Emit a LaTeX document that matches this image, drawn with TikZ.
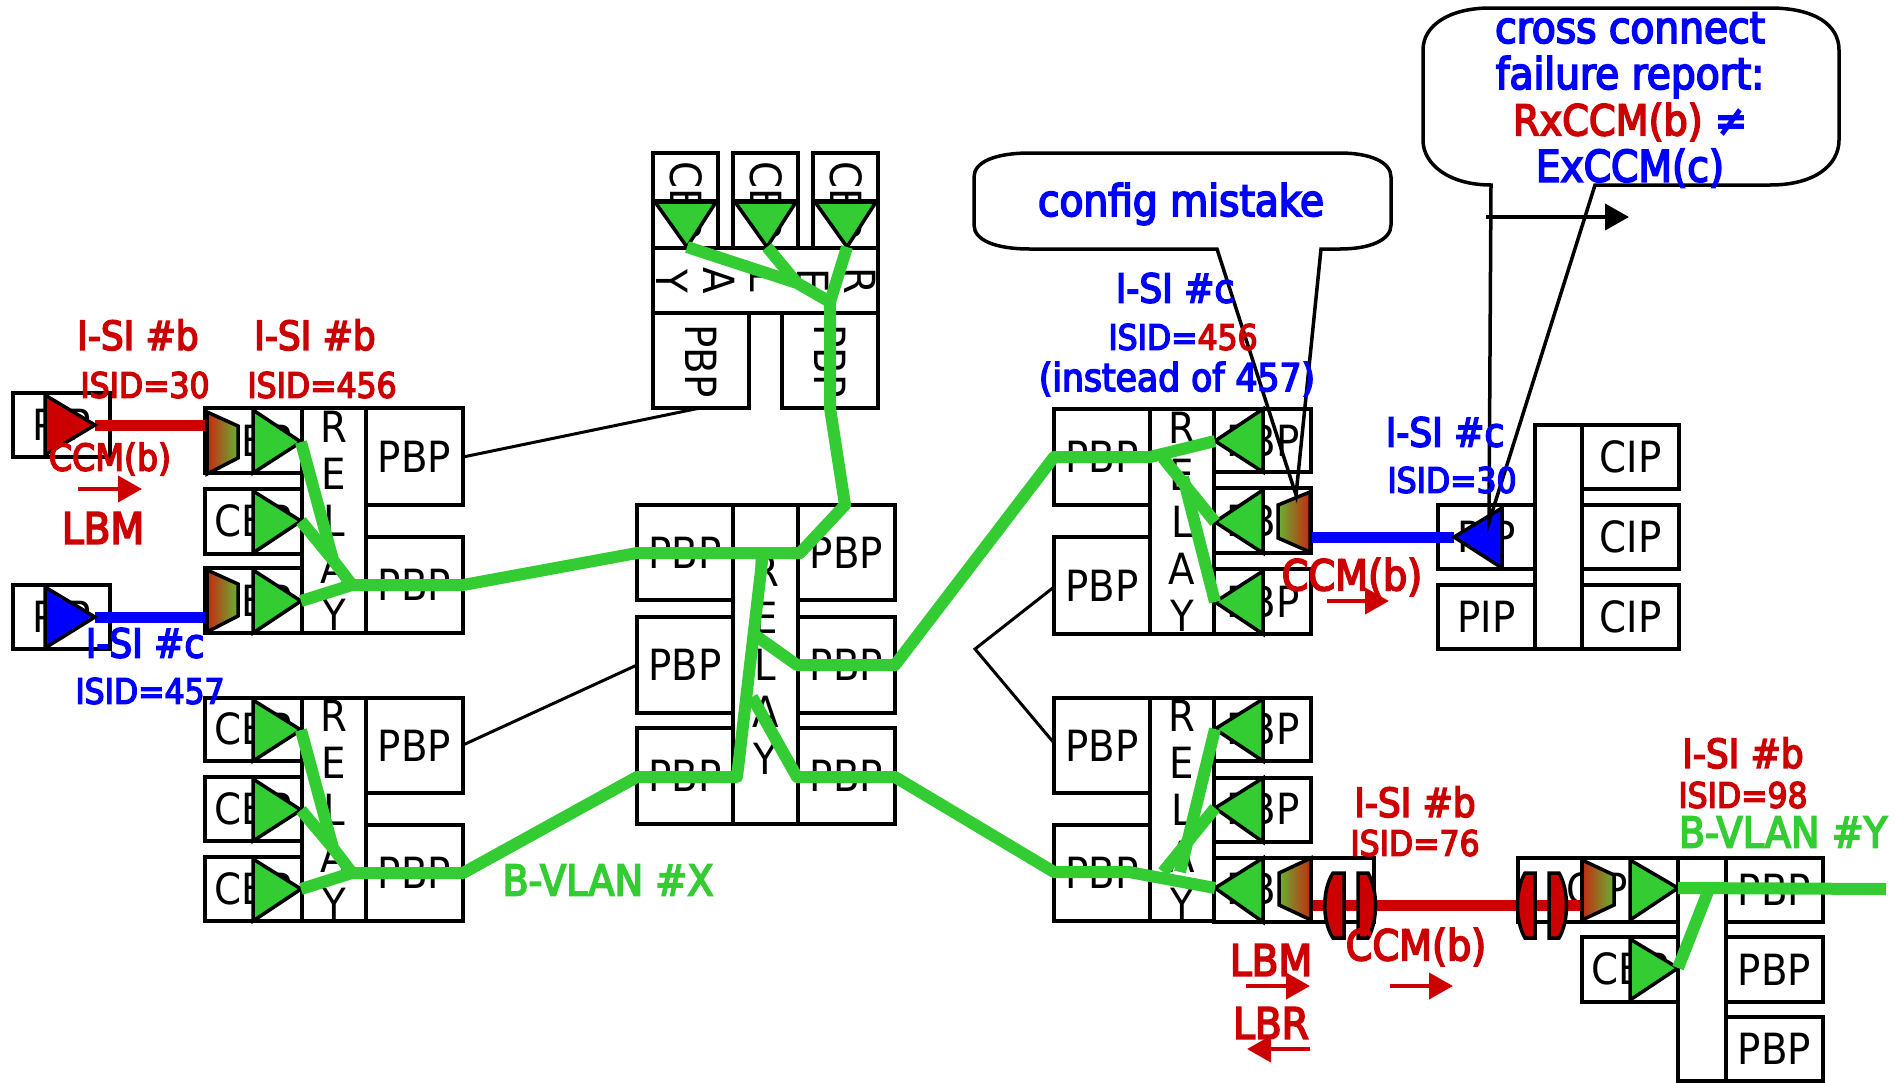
\documentclass[tikz,border=0pt]{standalone}
\usepackage{fontspec}
\setmainfont{DejaVu Sans Condensed}
\newfontfamily\lbf[FakeBold=4]{DejaVu Sans Condensed}
\definecolor{cred}{HTML}{CC0000}
\definecolor{cblue}{HTML}{0000FF}
\definecolor{cgreen}{HTML}{33CC33}
\definecolor{gmid}{HTML}{A87A28}
\definecolor{gend}{HTML}{66B233}
\definecolor{gsta}{HTML}{C42A10}
\usetikzlibrary{arrows.meta}
\tikzset{
 boxs/.style={draw=black,line width=3.5pt,inner sep=0pt,font=\fontsize{43}{47}\selectfont,align=center},
 plain/.style={inner sep=0pt,font=\fontsize{43}{47}\selectfont,align=center},
 glink/.style={draw=cgreen,line width=12pt,line join=round},
 thin/.style={draw=black,line width=3pt},
 tria/.style={draw=black,line width=3.5pt,line join=miter},
 trap/.style={draw=black,line width=3.5pt,line join=miter},
 lab/.style={inner sep=0pt,align=center,font=\fontsize{40}{47}\lbf},
 labs/.style={inner sep=0pt,align=center,font=\fontsize{35}{42}\lbf},
 labc/.style={inner sep=0pt,align=center,font=\fontsize{43.5}{47}\lbf},
 labm/.style={inner sep=0pt,align=center,font=\fontsize{42.5}{47}\lbf},
 labi/.style={inner sep=0pt,align=center,font=\fontsize{38.5}{42}\lbf},
 labj/.style={inner sep=0pt,align=center,font=\fontsize{37}{42}\lbf},
 rarrow/.style={draw=cred,line width=4pt,-{Triangle[length=24pt,width=26pt]}},
 lens/.style={fill=cred,draw=black,line width=3.5pt},
 gradlr/.style={trap,left color=gsta,middle color=gmid,right color=gend},
 gradrl/.style={trap,left color=gend,middle color=gmid,right color=gsta},
}
% name, x1,y1,x2,y2,text
\newcommand{\bx}[6]{%
 \pgfmathsetmacro{\bw}{#4-#2}\pgfmathsetmacro{\bh}{#5-#3}%
 \pgfmathsetmacro{\bcx}{(#2+#4)/2}\pgfmathsetmacro{\bcy}{(#3+#5)/2}%
 \node[boxs,minimum width=\bw pt,minimum height=\bh pt] (#1) at (\bcx,\bcy) {#6};}
% name of tip, base x, y1, y2, tip x, tip y, colour
\newcommand{\tri}[7]{%
 \coordinate (#1) at (#5,#6);
 \draw[tria,fill=#7] (#2,#3) -- (#2,#4) -- (#1) -- cycle;}
\begin{document}
\begin{tikzpicture}[x=1pt,y=-1pt]
\useasboundingbox (0,0) rectangle (1904,1082);
\fill[white] (0,0) rectangle (1904,1082);
% far left PIPs
\bx{pipa}{13}{393}{110}{457}{PIP}
\bx{pipb}{13}{585}{110}{649}{PIP}
\draw[line width=3pt] (45,391) -- (45,459) (45,583) -- (45,651);
% left upper block
\bx{cba}{205}{408}{302}{473}{}
\bx{cbb}{205}{489}{302}{554}{}
\bx{cbc}{205}{568}{302}{633}{}
\node[plain] (tcba) at (253,441) {CBP};
\node[plain] (tcbb) at (253,521) {CBP};
\node[plain] (tcbc) at (253,601) {CBP};
\bx{rla}{302}{408}{366}{633}{R\\E\\L\\A\\Y}
\bx{pba}{366}{408}{463}{505}{PBP}
\bx{pbb}{366}{537}{463}{633}{PBP}
% left lower block
\bx{cbd}{205}{698}{302}{761}{}
\bx{cbe}{205}{777}{302}{841}{}
\bx{cbf}{205}{857}{302}{921}{}
\node[plain] (tcbd) at (253,729) {CBP};
\node[plain] (tcbe) at (253,809) {CBP};
\node[plain] (tcbf) at (253,889) {CBP};
\bx{rlb}{302}{698}{366}{921}{R\\E\\L\\A\\Y}
\bx{pbc}{366}{698}{463}{793}{PBP}
\bx{pbd}{366}{825}{463}{921}{PBP}
% centre block
\bx{pbe}{637}{505}{733}{600}{PBP}
\bx{pbf}{637}{617}{733}{713}{PBP}
\bx{pbg}{637}{728}{733}{824}{PBP}
\bx{rlc}{733}{505}{798}{824}{R\\E\\L\\A\\Y}
\bx{pbh}{798}{505}{895}{600}{PBP}
\bx{pbi}{798}{617}{895}{713}{PBP}
\bx{pbj}{798}{728}{895}{824}{PBP}
% top block
\bx{cbg}{653}{153}{718}{248}{}
\bx{cbh}{733}{153}{798}{248}{}
\bx{cbi}{813}{153}{878}{248}{}
\node[plain,rotate=-90] (tcbg) at (686,200) {CBP};
\node[plain,rotate=-90] (tcbh) at (766,200) {CBP};
\node[plain,rotate=-90] (tcbi) at (846,200) {CBP};
\bx{rld}{653}{248}{878}{313}{}
\node[plain,rotate=-90] (trld) at (766,281) {R\\E\\L\\A\\Y};
\bx{pbk}{653}{313}{749}{408}{}
\bx{pbl}{782}{313}{878}{408}{}
\node[plain,rotate=-90] (tpbk) at (701,361) {PBP};
\node[plain,rotate=-90] (tpbl) at (830,361) {PBP};
% right upper block
\bx{pbm}{1054}{409}{1150}{505}{PBP}
\bx{pbn}{1054}{537}{1150}{634}{PBP}
\bx{rle}{1150}{409}{1214}{634}{R\\E\\L\\A\\Y}
\bx{cbj}{1214}{409}{1311}{472}{}
\bx{cbk}{1214}{488}{1311}{553}{}
\bx{cbl}{1214}{569}{1311}{634}{}
\node[plain] (tcbj) at (1263,441) {PBP};
\node[plain] (tcbk) at (1263,521) {PBP};
\node[plain] (tcbl) at (1263,602) {PBP};
% PIP / CIP
\bx{pipc}{1438}{505}{1535}{569}{PIP}
\bx{pipd}{1438}{585}{1535}{649}{PIP}
\bx{col}{1535}{425}{1582}{649}{}
\bx{cipa}{1582}{425}{1679}{489}{CIP}
\bx{cipb}{1582}{505}{1679}{569}{CIP}
\bx{cipc}{1582}{585}{1679}{649}{CIP}
% right lower block
\bx{pbo}{1054}{698}{1150}{793}{PBP}
\bx{pbp}{1054}{825}{1150}{921}{PBP}
\bx{rlf}{1150}{698}{1214}{921}{R\\E\\L\\A\\Y}
\bx{cbm}{1214}{698}{1311}{761}{}
\bx{cbn}{1214}{778}{1311}{842}{}
\bx{cbo}{1214}{858}{1311}{922}{}
\bx{ext}{1311}{858}{1374}{922}{}
\node[plain] (tcbm) at (1263,729) {PBP};
\node[plain] (tcbn) at (1263,809) {PBP};
\node[plain] (tcbo) at (1263,889) {PBP};
% bottom right block
\bx{exr}{1518}{858}{1582}{922}{}
\bx{cbp}{1582}{858}{1678}{922}{}
\node[plain] (tcip) at (1597,889) {CIP};
\bx{cbq}{1582}{937}{1678}{1002}{}
\node[plain] (tcbq) at (1630,969) {CBP};
\bx{rlg}{1678}{858}{1726}{1081}{}
\bx{pbq}{1726}{858}{1823}{922}{PBP}
\bx{pbr}{1726}{937}{1823}{1002}{PBP}
\bx{pbs}{1726}{1017}{1823}{1081}{PBP}
% thin black links
\coordinate (fork) at (975,649);
\draw[thin] (463,457) -- (700,408);
\draw[thin] (463,745) -- (637,665);
\draw[thin] (1054,587) -- (fork) -- (1054,743);
% coloured service lines
\draw[draw=cred,line width=11pt] (95,425) -- (205,425);
\draw[draw=cblue,line width=11pt] (95,617) -- (205,617);
\draw[draw=cblue,line width=11pt] (1310,537) -- (1454,537);
\draw[draw=cred,line width=11pt] (1311,905) -- (1582,905);
% triangles
\tri{ra}{45}{395}{455}{95}{425}{cred}
\tri{rb}{45}{587}{648}{95}{617}{cblue}
\tri{ga}{253}{410}{473}{301}{442}{cgreen}
\tri{gb}{253}{491}{553}{301}{521}{cgreen}
\tri{gc}{253}{570}{633}{301}{601}{cgreen}
\tri{gd}{253}{700}{761}{301}{730}{cgreen}
\tri{ge}{253}{779}{841}{301}{810}{cgreen}
\tri{gf}{253}{859}{921}{301}{889}{cgreen}
\tri{gg}{1263}{409}{472}{1215}{441}{cgreen}
\tri{gh}{1263}{490}{553}{1215}{522}{cgreen}
\tri{gi}{1263}{571}{634}{1215}{602}{cgreen}
\tri{gj}{1263}{699}{761}{1215}{729}{cgreen}
\tri{gk}{1263}{778}{842}{1215}{808}{cgreen}
\tri{gl}{1263}{858}{922}{1215}{888}{cgreen}
\tri{gm}{1630}{860}{920}{1678}{888}{cgreen}
\tri{gn}{1630}{939}{1000}{1678}{968}{cgreen}
\tri{bl}{1502}{508}{568}{1454}{537}{cblue}
% downward triangles of the top block
\coordinate (ta) at (687,247);
\coordinate (tb) at (767,247);
\coordinate (tc) at (847,247);
\draw[tria,fill=cgreen] (655,202) -- (716,202) -- (ta) -- cycle;
\draw[tria,fill=cgreen] (735,202) -- (796,202) -- (tb) -- cycle;
\draw[tria,fill=cgreen] (815,202) -- (876,202) -- (tc) -- cycle;
\draw[line width=3pt] (651,200) -- (720,200) (731,200) -- (800,200) (811,200) -- (880,200);
% gradient trapezoids
\shade[gradlr] (207,412) -- (238,426) -- (238,458) -- (207,474) -- cycle;
\shade[gradlr] (207,570) -- (238,584) -- (238,616) -- (207,632) -- cycle;
\shade[gradrl] (1310,492) -- (1278,505) -- (1278,538) -- (1310,552) -- cycle;
\shade[gradrl] (1311,858) -- (1279,873) -- (1279,905) -- (1311,920) -- cycle;
\shade[gradlr] (1582,860) -- (1614,875) -- (1614,905) -- (1582,920) -- cycle;
% lenses
\draw[lens] (1344,873) -- (1333,873) .. controls (1322,890) and (1322,921) .. (1333,938) -- (1344,938) -- cycle;
\draw[lens] (1358,873) -- (1368,873) .. controls (1378,890) and (1378,921) .. (1368,938) -- (1358,938) -- cycle;
\draw[lens] (1535,873) -- (1525,873) .. controls (1515,890) and (1515,921) .. (1525,938) -- (1535,938) -- cycle;
\draw[lens] (1549,873) -- (1559,873) .. controls (1569,890) and (1569,921) .. (1559,938) -- (1549,938) -- cycle;
% green waypoints
\coordinate (a1) at (333,560);
\coordinate (a2) at (352,585);
\coordinate (a3) at (463,585);
\coordinate (a4) at (637,553);
\coordinate (a5) at (800,553);
\coordinate (a6) at (845,505);
\coordinate (a7) at (830,408);
\coordinate (a8) at (830,302);
\coordinate (a9) at (797,283);
\coordinate (b1) at (763,553);
\coordinate (b2) at (737,777);
\coordinate (b3) at (637,777);
\coordinate (b4) at (463,873);
\coordinate (b5) at (352,873);
\coordinate (b6) at (333,848);
\coordinate (c1) at (752,633);
\coordinate (c2) at (797,665);
\coordinate (c3) at (895,665);
\coordinate (c4) at (1054,457);
\coordinate (c5) at (1150,457);
\coordinate (c6) at (1163,458);
\coordinate (c7) at (1183,477);
\coordinate (d1) at (752,697);
\coordinate (d2) at (797,777);
\coordinate (d3) at (895,777);
\coordinate (d4) at (1054,872);
\coordinate (d5) at (1129,872);
\coordinate (d6) at (1163,872);
\coordinate (d7) at (1180,872);
\coordinate (e1) at (1886,889);
\coordinate (e2) at (1709,889);
% green lines
\draw[glink] (ta) -- (a9) -- (a8);
\draw[glink] (tb) -- (a9);
\draw[glink] (tc) -- (a8) -- (a7) -- (a6) -- (a5) -- (a4) -- (a3) -- (a2) -- (gc);
\draw[glink] (ga) -- (a1) -- (a2);
\draw[glink] (gb) -- (a1);
\draw[glink] (b1) -- (b2) -- (b3) -- (b4) -- (b5) -- (gf);
\draw[glink] (gd) -- (b6) -- (b5);
\draw[glink] (ge) -- (b6);
\draw[glink] (c1) -- (c2) -- (c3) -- (c4) -- (c5) -- (gg);
\draw[glink] (c6) -- (gh);
\draw[glink] (c7) -- (gi);
\draw[glink] (d1) -- (d2) -- (d3) -- (d4) -- (d5) -- (gl);
\draw[glink] (gk) -- (d6);
\draw[glink] (gj) -- (d7);
\draw[glink] (gm) -- (e1);
\draw[glink] (gn) -- (e2);
% callouts
\coordinate (tipa) at (1296,495);
\coordinate (tipb) at (1489,522);
\draw[line width=3.5pt] (1217,249) -- (tipa) -- (1321,249) -- (1340,249)
  .. controls (1370,249) and (1391,240) .. (1391,225) -- (1391,177)
  .. controls (1391,162) and (1370,153) .. (1340,153) -- (1030,153)
  .. controls (995,153) and (974,162) .. (974,177) -- (974,225)
  .. controls (974,240) and (995,249) .. (1030,249) -- cycle;
\draw[line width=3.5pt] (1491,185) -- (tipb) -- (1595,185) -- (1770,185)
  .. controls (1815,185) and (1839,165) .. (1839,140) -- (1839,50)
  .. controls (1839,25) and (1815,8) .. (1770,8) -- (1490,8)
  .. controls (1450,8) and (1423,25) .. (1423,50) -- (1423,140)
  .. controls (1423,165) and (1450,185) .. (1491,185) -- cycle;
\coordinate (barrowa) at (1486,217);
\coordinate (barrowb) at (1629,217);
\draw[line width=4pt,-{Triangle[length=24pt,width=26pt]}] (barrowa) -- (barrowb);
% labels
\node[lab,text=cred] (l1) at (138,335) {I-SI \#b};
\node[labs,text=cred] (l2) at (145,385) {ISID=30};
\node[lab,text=cred] (l3) at (315,335) {I-SI \#b};
\node[labs,text=cred] (l4) at (322,385) {ISID=456};
\node[labj,text=cred] (l5) at (110,459) {CCM(b)};
\node[labc,text=cred] (l6) at (103,528) {LBM};
\node[lab,text=cblue] (l7) at (145,643) {I-SI \#c};
\node[labs,text=cblue] (l8) at (150,691) {ISID=457};
\node[labm,text=cgreen] (l9) at (608,880) {B-VLAN \#X};
\node[lab,text=cblue] (l10) at (1175,288) {I-SI \#c};
\node[labs,text=cblue] (l11) at (1183,337) {ISID={\color{cred}456}};
\node[labi,text=cblue] (l12) at (1177,379) {(instead of 457)};
\node[lab,text=cblue] (l13) at (1445,432) {I-SI \#c};
\node[labs,text=cblue] (l14) at (1452,480) {ISID=30};
\node[labm,text=cred] (l15) at (1352,577) {CCM(b)};
\node[lab,text=cred] (l16) at (1415,802) {I-SI \#b};
\node[labs,text=cred] (l17) at (1415,843) {ISID=76};
\node[labm,text=cred] (l18) at (1416,947) {CCM(b)};
\node[labc,text=cred] (l19) at (1271,960) {LBM};
\node[labc,text=cred] (l20) at (1271,1023) {LBR};
\node[lab,text=cred] (l21) at (1743,753) {I-SI \#b};
\node[labs,text=cred] (l22) at (1743,795) {ISID=98};
\node[labm,text=cgreen] (l23) at (1783,832) {B-VLAN \#Y};
\node[labc,text=cblue] (l24) at (1181,204) {config mistake};
\node[labc,text=cblue] (l25) at (1630,28) {cross connect};
\node[labc,text=cblue] (l26) at (1630,77) {failure report:};
\node[labm] (l27) at (1630,122) {{\color{cred}RxCCM(b)} {\color{cblue}≠}};
\node[labc,text=cblue] (l28) at (1630,168) {ExCCM(c)};
% red arrows
\coordinate (ra1) at (78,489); \coordinate (ra2) at (142,489);
\coordinate (ra3) at (1327,601); \coordinate (ra4) at (1389,601);
\coordinate (ra5) at (1390,986); \coordinate (ra6) at (1453,986);
\coordinate (ra7) at (1246,986); \coordinate (ra8) at (1310,986);
\coordinate (ra9) at (1310,1049); \coordinate (ra10) at (1247,1049);
\draw[rarrow] (ra1) -- (ra2);
\draw[rarrow] (ra3) -- (ra4);
\draw[rarrow] (ra5) -- (ra6);
\draw[rarrow] (ra7) -- (ra8);
\draw[rarrow] (ra9) -- (ra10);
\end{tikzpicture}
\end{document}
